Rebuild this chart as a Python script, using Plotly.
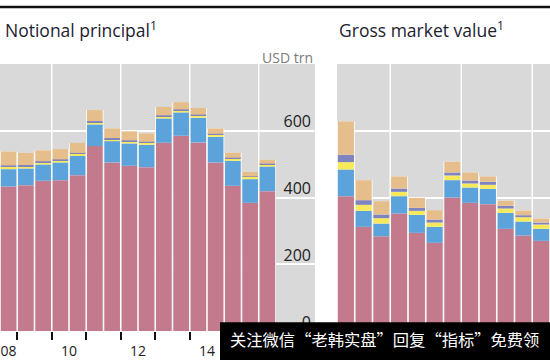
import numpy as np
import plotly.graph_objects as go

# ---------------- data ----------------
periods = ["H2 2008", "H1 2009", "H2 2009", "H1 2010", "H2 2010", "H1 2011",
           "H2 2011", "H1 2012", "H2 2012", "H1 2013", "H2 2013", "H1 2014",
           "H2 2014", "H1 2015", "H2 2015", "H1 2016"]

# Notional principal, USD trn
np_interest_rate = [433, 437, 450, 452, 467, 554, 505, 495, 491, 564, 585, 565, 505, 435, 384, 419]
np_fx            = [52, 50, 49, 53, 58, 65, 64, 67, 67, 73, 70, 74, 77, 75, 71, 74]
np_equity        = [6.5, 6.6, 6.6, 6.3, 5.6, 6.8, 6.0, 6.3, 6.3, 6.8, 6.6, 7.1, 6.9, 7.5, 7.1, 6.9]
np_commodities   = [4.4, 3.7, 2.9, 2.9, 2.9, 3.2, 3.1, 3.0, 2.6, 2.5, 2.2, 2.2, 1.9, 1.7, 1.3, 1.4]
np_cds           = [42, 36, 33, 31, 30, 33, 29, 27, 25, 25, 22, 20, 16, 15, 13, 12]

# Gross market value, USD trn (visible periods)
gmv_periods        = periods[:12]
gmv_interest_rate  = [20.2, 15.6, 14.2, 17.6, 14.7, 13.2, 20.0, 19.2, 19.0, 15.3, 14.3, 13.5]
gmv_fx             = [4.0, 2.4, 1.9, 2.6, 2.7, 2.4, 2.6, 2.3, 2.3, 2.4, 2.1, 1.8]
gmv_equity         = [1.1, 0.9, 0.8, 0.65, 0.6, 0.65, 0.7, 0.6, 0.6, 0.65, 0.65, 0.65]
gmv_commodities    = [1.1, 0.7, 0.55, 0.5, 0.45, 0.45, 0.45, 0.45, 0.45, 0.4, 0.3, 0.3]
gmv_cds            = [5.0, 3.0, 2.0, 1.8, 1.5, 1.4, 1.6, 1.2, 0.8, 0.75, 0.7, 0.6]

year_labels = ["08", "10", "12", "14", "16"]
label_years = [2008, 2010, 2012, 2014, 2016]
np_ticks = [0, 200, 400, 600]
gmv_ticks = [0, 10, 20, 30]

series_names = ["Interest rate", "Foreign exchange", "Equity", "Commodities", "Credit default swaps"]
colors = ["#C27A8C", "#5DA3DB", "#F6EA5C", "#7F83C0", "#E5BE8C"]

# ---------------- helpers ----------------
def centers(pers):
    return np.array([int(p[3:]) + (0.25 if p.startswith("H1") else 0.75) for p in pers])

BAR_W = 0.455
SLOT_W = 0.5

fig = go.Figure()

def add_panel(pers, series, xa, ya):
    x = centers(pers)
    arr = np.array(series, dtype=float)
    total = arr.sum(axis=0)
    fig.add_trace(go.Bar(x=x, y=total, base=0, width=SLOT_W, marker=dict(color="white", line=dict(width=0)),
                         xaxis=xa, yaxis=ya, showlegend=False, hoverinfo="skip"))
    base = np.zeros_like(total)
    for name, vals, col in zip(series_names, arr, colors):
        fig.add_trace(go.Bar(x=x, y=vals, base=base.copy(), width=BAR_W, name=name,
                             marker=dict(color=col, line=dict(width=0)),
                             xaxis=xa, yaxis=ya, showlegend=False))
        base = base + vals

add_panel(periods, [np_interest_rate, np_fx, np_equity, np_commodities, np_cds], "x", "y")
add_panel(gmv_periods, [gmv_interest_rate, gmv_fx, gmv_equity, gmv_commodities, gmv_cds], "x2", "y2")

# label positions: centre of the visible part of each labelled year
first_start = centers(periods)[0] - 0.25
def label_pos(last_end):
    out = []
    for y in label_years:
        lo = max(y, first_start)
        hi = min(y + 1, last_end)
        out.append((lo + hi) / 2)
    return out

left_end = centers(periods)[-1] + 0.25

W, H = 550, 360
top, bottom = 64, 339
ph = bottom - top

def py(ypix):
    return (bottom - ypix) / ph

FONT = "Open Sans"

xcommon = dict(showgrid=False, zeroline=False, showline=False, ticks="",
               ticklabelstandoff=10,
               tickfont=dict(family=FONT, size=14, color="#222"),
               minor=dict(ticks="outside", ticklen=8, tickwidth=1.5, tickcolor="#111", showgrid=False))

fig.update_layout(
    width=W, height=H,
    margin=dict(l=0, r=0, t=top, b=H - bottom, pad=0),
    paper_bgcolor="white",
    plot_bgcolor="#D9D9D9",
    barmode="overlay",
    showlegend=False,
    xaxis=dict(domain=[0, 315 / W], range=[2008.5, 2008.5 + 315 / 34.5],
               tickvals=label_pos(left_end), ticktext=year_labels,
               **xcommon),
    xaxis2=dict(domain=[337 / W, 1], range=[2008.5, 2008.5 + 213 / 35.5], anchor="y2",
                tickvals=label_pos(2014.5), ticktext=year_labels, **xcommon),
    yaxis=dict(range=[0, 800], side="right", tickvals=np_ticks, showgrid=True, gridcolor="white",
               gridwidth=1.5, zeroline=False, showline=False, ticks="",
               ticklabelposition="inside", ticklabelshift=-9, ticklabelstandoff=1,
               ticklabeloverflow="allow",
               tickfont=dict(family=FONT, size=16, color="#222"), anchor="x"),
    yaxis2=dict(range=[0, 40], side="right", tickvals=gmv_ticks, showgrid=True, gridcolor="white",
                gridwidth=1.5, zeroline=False, showline=False, ticks="", showticklabels=False,
                anchor="x2"),
)

# minor tick marks at year boundaries
fig.layout.xaxis.minor.tickvals = list(range(2009, 2018))
fig.layout.xaxis2.minor.tickvals = list(range(2009, 2015))

# vertical white gridlines every two years
grid_years = [2010, 2012, 2014, 2016]
shapes = []
for xr, gy_list in (("x", grid_years), ("x2", grid_years[:3])):
    for gy in gy_list:
        shapes.append(dict(type="line", xref=xr, yref="y domain" if xr == "x" else "y2 domain",
                           x0=gy, x1=gy, y0=0, y1=1, layer="below",
                           line=dict(color="white", width=1.5)))
# top rule (as a filled band)
shapes.append(dict(type="rect", xref="paper", yref="paper", x0=0, x1=1, y0=py(6.5), y1=py(4),
                   fillcolor="#111", line=dict(width=0), layer="above"))
# watermark box
shapes.append(dict(type="rect", xref="paper", yref="paper", x0=220 / W, x1=1, y0=py(330), y1=py(372),
                   fillcolor="black", line=dict(width=0), layer="above"))
fig.update_layout(shapes=shapes)

annotations = [
    dict(text="Notional principal<sup>1</sup>", x=3 / W, y=py(28), xref="paper", yref="paper",
         xanchor="left", yanchor="middle", showarrow=False,
         font=dict(family=FONT, size=17.5, color="#1c2230")),
    dict(text="Gross market value<sup>1</sup>", x=337 / W, y=py(28), xref="paper", yref="paper",
         xanchor="left", yanchor="middle", showarrow=False,
         font=dict(family=FONT, size=17.5, color="#1c2230")),
    dict(text="USD trn", x=315 / W, y=py(57), xref="paper", yref="paper",
         xanchor="right", yanchor="middle", showarrow=False,
         font=dict(family=FONT, size=14, color="#7a7a7a")),
    dict(text="关注微信“老韩实盘”回复“指标”免费领", x=228 / W, y=py(347), xref="paper", yref="paper",
         xanchor="left", yanchor="middle", showarrow=False,
         font=dict(family="Noto Sans CJK SC", size=16.3, color="white")),
]
fig.update_layout(annotations=annotations)

fig.write_html("out.html", config={"displayModeBar": False},
               post_script="document.body.style.margin='0';")
